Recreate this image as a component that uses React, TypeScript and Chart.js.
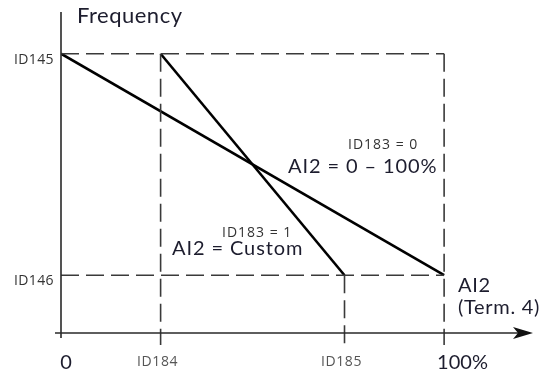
import React, { useEffect, useRef } from "react";
import { Chart, registerables } from "chart.js";

Chart.register(...registerables);

// Data
const xTickValues = [0, 26, 74, 100];
const xTickLabels = ["0", "ID184", "ID185", "100%"];
const yTickValues = [87, 18];
const yTickLabels = ["ID145", "ID146"];
const lineStandardX = [0, 100];
const lineStandardY = [87, 18];
const lineCustomX = [26, 74];
const lineCustomY = [87, 18];

const BIG = "Lato, 'Open Sans', sans-serif";
const SMALL = "'Open Sans', sans-serif";

const overlay = {
  id: "overlay",
  afterDatasetsDraw(chart: any) {
    const ctx = chart.ctx as any;
    const xs = chart.scales.x;
    const ys = chart.scales.y;
    const px = (v: number) => xs.getPixelForValue(v);
    const py = (v: number) => ys.getPixelForValue(v);
    const x0 = px(0);
    const y0 = py(0);
    const yTop = py(100);
    const xEnd = chart.chartArea.right;
    const yHi = py(yTickValues[0]);
    const yLo = py(yTickValues[1]);
    const x100 = px(100);
    const x184 = px(xTickValues[1]);
    const x185 = px(xTickValues[2]);

    ctx.save();
    // dashed guides
    ctx.strokeStyle = "#3a3a3a";
    ctx.lineWidth = 1.6;
    ctx.setLineDash([18, 7]);
    const dash = (ax: number, ay: number, bx: number, by: number) => {
      ctx.beginPath();
      ctx.moveTo(ax, ay);
      ctx.lineTo(bx, by);
      ctx.stroke();
    };
    dash(x0, yHi, x100, yHi);
    dash(x0, yLo, x100, yLo);
    dash(x100, yHi, x100, y0 + 12);
    dash(x184, yHi, x184, y0 + 12);
    dash(x185, yLo, x185, y0 + 12);
    ctx.setLineDash([]);

    // axes
    ctx.strokeStyle = "#2a2a2a";
    ctx.lineWidth = 1.6;
    ctx.beginPath();
    ctx.moveTo(x0, yTop);
    ctx.lineTo(x0, y0 + 5);
    ctx.moveTo(x0 - 6, y0);
    ctx.lineTo(xEnd - 10, y0);
    ctx.stroke();
    ctx.fillStyle = "#111";
    ctx.beginPath();
    ctx.moveTo(xEnd, y0);
    ctx.lineTo(xEnd - 20, y0 - 6);
    ctx.lineTo(xEnd - 15, y0);
    ctx.lineTo(xEnd - 20, y0 + 6);
    ctx.closePath();
    ctx.fill();

    // y tick labels
    ctx.fillStyle = "#333";
    ctx.font = `14px ${SMALL}`;
    ctx.letterSpacing = "0.4px";
    ctx.textAlign = "right";
    ctx.textBaseline = "alphabetic";
    yTickValues.forEach((v, i) => ctx.fillText(yTickLabels[i], x0 - 7, py(v) + 10));

    // x tick labels
    xTickValues.forEach((v, i) => {
      const lbl = xTickLabels[i];
      const big = lbl === "0" || lbl === "100%";
      if (big) {
        ctx.font = `20px ${BIG}`;
        ctx.letterSpacing = "0px";
        ctx.fillStyle = "#1d1d2e";
        if (lbl === "0") {
          ctx.textAlign = "center";
          ctx.fillText(lbl, px(v) + 5, 369);
        } else {
          ctx.textAlign = "left";
          ctx.fillText(lbl, px(v) - 7, 369);
        }
      } else {
        ctx.font = `14px ${SMALL}`;
        ctx.letterSpacing = "0.6px";
        ctx.fillStyle = "#555";
        ctx.textAlign = "center";
        ctx.fillText(lbl, px(v) - 3, 366);
      }
    });

    // Annotations
    ctx.textAlign = "left";
    ctx.fillStyle = "#1d1d2e";
    ctx.font = `22px ${BIG}`;
    ctx.letterSpacing = "0.5px";
    ctx.fillText("Frequency", 77, 23);

    ctx.font = `14px ${SMALL}`;
    ctx.letterSpacing = "1px";
    ctx.fillStyle = "#333";
    ctx.fillText("ID183 = 0", 348, 149);
    ctx.fillText("ID183 = 1", 222, 237);

    ctx.font = `20px ${BIG}`;
    ctx.letterSpacing = "0.9px";
    ctx.fillStyle = "#1d1d2e";
    ctx.fillText("AI2 = 0 \u2013 100%", 288, 173);
    ctx.fillText("AI2 = Custom", 172, 255);
    ctx.letterSpacing = "0.7px";
    ctx.fillText("AI2", 458, 292);
    ctx.fillText("(Term. 4)", 458, 314);
    ctx.restore();
  },
};

export default function App() {
  const ref = useRef<HTMLCanvasElement>(null);
  useEffect(() => {
    if (!ref.current) return;
    const chart = new Chart(ref.current, {
      type: "scatter",
      data: {
        datasets: [
          {
            data: lineStandardX.map((x, i) => ({ x, y: lineStandardY[i] })),
            showLine: true,
            borderColor: "#000",
            borderWidth: 2.6,
            pointRadius: 0,
          },
          {
            data: lineCustomX.map((x, i) => ({ x, y: lineCustomY[i] })),
            showLine: true,
            borderColor: "#000",
            borderWidth: 2.6,
            pointRadius: 0,
          },
        ],
      },
      options: {
        animation: false,
        responsive: false,
        layout: { padding: { left: 61, right: 11, top: 12, bottom: 42 } },
        scales: {
          x: { type: "linear", min: 0, max: 123.2, display: false },
          y: { type: "linear", min: 0, max: 100, display: false },
        },
        plugins: { legend: { display: false }, tooltip: { enabled: false } },
      },
      plugins: [overlay],
    });
    return () => chart.destroy();
  }, []);
  return (
    <div style={{ position: "fixed", left: 0, top: 0, width: 544, height: 375, background: "#fff" }}>
      <canvas ref={ref} width={544} height={375} style={{ width: 544, height: 375 }} />
    </div>
  );
}
